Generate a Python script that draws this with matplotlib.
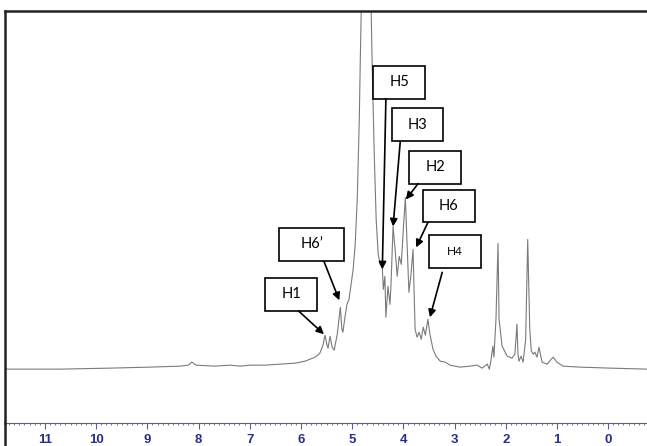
import matplotlib
matplotlib.use("Agg")
import matplotlib.pyplot as plt
from matplotlib.ticker import MultipleLocator
from matplotlib.lines import Line2D
from matplotlib.patches import Rectangle

# 1H spectrum trace: chemical shift (ppm) and intensity (arbitrary units, baseline = 0)
shift_ppm = [11.78, 10.70, 9.73, 8.95, 8.36, 8.20, 8.13, 8.05, 7.68, 7.38, 7.19, 6.99,
             6.70, 6.41, 6.11, 5.92, 5.72, 5.63, 5.57, 5.53, 5.49, 5.47, 5.43, 5.39,
             5.35, 5.29, 5.23, 5.20, 5.18, 5.14, 5.10, 5.06, 5.02, 4.98, 4.94, 4.90,
             4.86, 4.84, 4.80, 4.73, 4.65, 4.61, 4.57, 4.53, 4.49, 4.45, 4.41, 4.39,
             4.36, 4.34, 4.30, 4.26, 4.24, 4.20, 4.16, 4.12, 4.08, 4.04, 4.00, 3.96,
             3.93, 3.89, 3.85, 3.81, 3.79, 3.77, 3.73, 3.69, 3.65, 3.61, 3.57, 3.52,
             3.48, 3.42, 3.36, 3.28, 3.18, 3.09, 2.89, 2.70, 2.56, 2.46, 2.36, 2.32,
             2.29, 2.25, 2.23, 2.19, 2.15, 2.13, 2.07, 1.97, 1.88, 1.82, 1.78, 1.76,
             1.74, 1.70, 1.66, 1.61, 1.57, 1.53, 1.50, 1.46, 1.43, 1.39, 1.35, 1.29,
             1.19, 1.11, 1.07, 1.00, 0.88, 0.55, -0.04, -0.76]
intensity = [0, 0, 1, 2, 3, 4, 7, 4, 3, 4, 3, 4,
             4, 5, 6, 8, 12, 16, 24, 34, 24, 21, 33, 22,
             19, 35, 62, 40, 37, 52, 65, 70, 85, 100, 125, 170,
             250, 310, 420, 620, 420, 310, 220, 150, 115, 105, 102, 80,
             93, 52, 83, 65, 85, 143, 120, 93, 113, 105, 140, 172,
             130, 77, 95, 120, 80, 40, 32, 37, 30, 42, 34, 50,
             35, 20, 13, 8, 7, 4, 2, 3, 4, 1, 5, 0,
             8, 23, 12, 50, 126, 50, 23, 13, 11, 15, 45, 15,
             8, 13, 7, 30, 130, 40, 18, 15, 17, 12, 22, 7,
             5, 10, 12, 7, 3, 2, 1, 0]

# proton assignments
labels = ["H5", "H3", "H2", "H6", "H4", "H6\u2019", "H1"]
peak_ppm = [4.41, 4.20, 3.95, 3.75, 3.48, 5.25, 5.55]
peak_int = [100, 143, 170, 122, 52, 69, 35]

tick_labels = [str(v) for v in range(0, 12)]

# label boxes: centre (ppm, intensity), width (ppm), height, arrow start, font size
box_cx = [4.08, 3.72, 3.38, 3.11, 2.99, 5.79, 6.19]
box_cy = [287.5, 245, 202.5, 163.5, 117.5, 125, 75]
box_w = [1.02, 1.00, 1.02, 1.01, 1.02, 1.27, 1.02]
box_h = 33
arrow_from = [(4.34, 271), (4.06, 228), (3.71, 186), (3.52, 147),
              (3.24, 97), (5.55, 108), (6.04, 58)]
label_size = [10.5, 10.5, 10.5, 10.5, 8.5, 10.5, 10.5]

W, H = 647, 446
fig = plt.figure(figsize=(W / 100, H / 100), dpi=100)
bottom = (H - 423) / H
top = (H - 11) / H
left = 5 / W
ax = fig.add_axes([left, bottom, 1 - left, top - bottom])

ax.plot(shift_ppm, intensity, color="#7a7a7a", lw=0.8)

ax.set_xlim(11.78, -0.76)
ax.set_ylim(-54, 359)

ax.spines["right"].set_visible(False)
for name in ["left", "top"]:
    ax.spines[name].set_color("#222222")
    ax.spines[name].set_linewidth(1.8)
ax.spines["bottom"].set_color("#5c5f8c")
ax.spines["bottom"].set_linewidth(0.8)

# frame line continues below the ppm axis
fig.add_artist(Line2D([left, left], [0, bottom], transform=fig.transFigure,
                      color="#222222", lw=1.8))

ax.set_yticks([])
ax.xaxis.set_minor_locator(MultipleLocator(0.1))
ax.set_xticks(range(0, 12))
ax.set_xticklabels(tick_labels)
ax.tick_params(axis="x", which="major", direction="out", length=4, width=0.8,
               color="#5c5f8c", pad=4, labelsize=9.5, labelcolor="#2b2f85")
ax.tick_params(axis="x", which="minor", direction="out", length=1.5, width=0.6,
               color="#5c5f8c")
for lab in ax.get_xticklabels():
    lab.set_fontfamily("Liberation Sans")
    lab.set_fontweight("bold")

for i, name in enumerate(labels):
    rect = Rectangle((box_cx[i] - box_w[i] / 2, box_cy[i] - box_h / 2), box_w[i], box_h,
                     facecolor="white", edgecolor="black", lw=1.2, zorder=4)
    ax.add_patch(rect)
    ax.text(box_cx[i], box_cy[i], name, ha="center", va="center",
            fontsize=label_size[i], family="Lato", zorder=5)
    ax.annotate("", xy=(peak_ppm[i], peak_int[i]), xytext=arrow_from[i],
                arrowprops=dict(arrowstyle="-|>", color="black", lw=1.2,
                                mutation_scale=11, shrinkA=0, shrinkB=0),
                zorder=5)

fig.savefig("out.png", dpi=100)
